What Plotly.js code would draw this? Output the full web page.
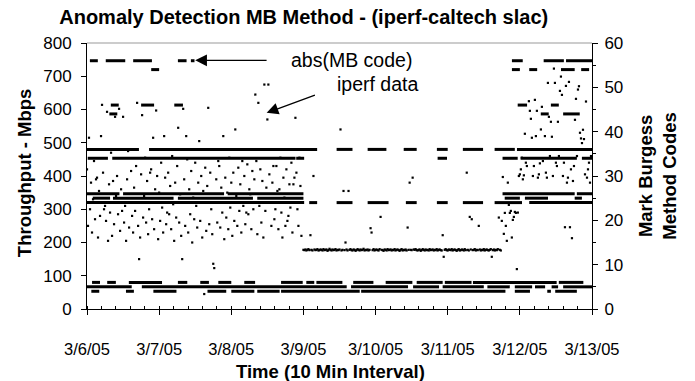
<!DOCTYPE html>
<html>
<head>
<meta charset="utf-8">
<script src="https://cdn.plot.ly/plotly-3.0.1.min.js"></script>
<style>html,body{margin:0;padding:0;background:#fff;}#chart{width:695px;height:381px;}</style>
</head>
<body>
<div id="chart"></div>
<script>
// ---- data ----
var dayLabels = ['3/6/05','3/7/05','3/8/05','3/9/05','3/10/05','3/11/05','3/12/05','3/13/05'];
var dayTicks = [0,1,2,3,4,5,6,7];           // days since 3/6/05
var sampleStep = 1/72;                      // 20-minute samples (days)

// iperf throughput (Mbps), three runs
var iperfStart1 = 0;
var iperf1 = [
 420,250,515,300,380,230,330,445,270,390,395,215,
 355,280,520,614,410,300,310,265,593,205,375,290,
 470,220,385,255,578,340,400,285,602,235,360,295,
 578,260,310,205,390,475,245,320,415,280,230,365,
 295,430,620,250,150,215,405,583,275,340,455,260,
 385,225,300,410,420,270,515,240,360,597,400,210,
 350,265,440,305,230,520,395,255,290,410,285,370,
 240,460,315,205,380,275,430,545,260,345,220,150,
 602,390,250,520,450,230,360,285,415,200,335,270,
 440,310,245,380,505,265,400,215,355,45,425,235,
 370,605,255,410,300,225,136,123,320,390,260,445,
 430,245,365,290,520,210,395,275,350,240,455,305,
 380,220,410,265,540,340,250,425,295,375,230,445,
 310,400,255,290,435,285,360,345,240,415,300,390,
 645,445,225,620,310,420,260,385,215,675,295,365,
 570,675,405,320,250,380,430,270,300,430,355,240,
 360,455,290,215,395,335,250,420,265,280,375,305,
 440,230,375,395,575,410,300,250,455,370,220,480
];
var iperfStart2 = 3;
var iperf2 = [
 178,177,179,176,178,180,177,222,178,176,400,179,177,178,180,176,177,179,
 178,176,180,177,178,179,175,177,181,178,176,179,177,178,180,176,178,177,
 179,540,176,178,355,177,200,179,176,355,178,180,177,176,179,178,175,177,
 180,178,176,179,177,178,181,176,178,177,179,176,178,243,230,177,180,176,
 178,179,177,176,180,277,178,177,175,179,178,176,180,177,178,179,176,178,
 177,180,176,178,179,177,175,178,180,176,178,177,179,176,245,178,380,178,
 177,395,179,178,180,177,176,178,179,175,177,180,178,176,179,177,178,176,
 180,177,178,179,176,178,177,180,176,178,179,177,176,222,157,178,180,177,
 176,179,178,177,180,176,178,179,177,175,178,180,176,177,179,178,176,180,
 177,410,178,176,277,179,270,177,178,180,176,178,177,250,179,176,178,177,
 180,176,178,179,177,176,178,180,157,177,179,176,178,177,180,275,178,176
];
var iperfStart3 = 5.75;
var iperf3 = [
 265,397,226,289,250,205,380,313,289,295,215,268,277,292,289,120,290,
 400,405,420,455,390,402,527,440,430,480,625,596,572,
 515,400,430,629,520,596,395,405,438,540,608,445,480,520,410,
 395,680,578,460,563,518,400,723,680,440,430,563,460,656,699,
 644,400,440,246,671,380,395,683,246,420,213,385,430,569,632,
 460,660,670,530,513,499,539,511,405,624,395,420,440,380,460
];

// abs(MB code): code level and the time spans (days since 3/6/05) it holds
var mbLevels = [56, 54, 46, 44, 36, 34, 26, 25, 24, 6, 5, 4];
var mbSpans = [
 [[0.04,0.15],[0.26,0.53],[0.64,0.90],[1.26,1.38],[1.44,1.49],[5.89,6.04],[6.33,6.61],[6.64,7.0]],
 [[0.89,1.00],[5.89,6.00],[6.13,6.24],[6.57,6.76],[6.85,6.96]],
 [[0.33,0.44],[0.75,0.93],[1.21,1.33],[5.97,6.10],[6.43,6.54]],
 [[0.31,0.42],[6.29,6.40],[6.60,6.83]],
 [[0.0,0.72],[0.86,3.19],[3.46,3.68],[3.89,4.15],[4.39,4.57],[4.85,5.0],[5.21,5.49],[5.65,5.93],[5.96,7.0]],
 [[0.01,0.29],[0.35,2.89],[2.90,3.01],[4.86,4.99],[5.76,5.97],[6.01,6.79],[6.86,7.0]],
 [[0.0,0.45],[0.5,1.9],[1.95,3.0],[5.76,6.76],[6.79,7.0]],
 [[0.08,0.32],[0.36,1.2],[1.26,2.3],[2.36,3.0],[5.79,6.0],[6.07,6.39],[6.76,6.86]],
 [[0.0,3.01],[3.08,3.19],[3.46,3.68],[3.89,4.18],[4.42,4.57],[4.85,5.0],[5.21,5.49],[5.65,6.03],[6.13,7.0]],
 [[0.07,0.18],[0.28,0.40],[0.58,1.04],[1.26,1.39],[1.57,1.69],[1.82,2.0],[2.18,2.33],[2.69,2.99],[3.04,3.15],[3.18,3.54],[3.69,3.97],[4.14,4.51],[4.57,4.93],[4.96,5.33],[5.35,6.51],[6.54,6.88]],
 [[0.0,0.62],[0.76,3.6],[3.66,4.45],[4.52,4.88],[4.93,5.5],[5.55,5.86],[5.93,6.17],[6.21,6.35],[6.44,6.53],[6.6,7.0]],
 [[0.06,0.17],[0.54,0.65],[0.92,1.24],[1.67,1.93],[2.0,2.32],[2.36,2.67],[2.69,3.78],[3.8,5.8],[5.93,6.14],[6.38,6.43],[6.49,6.79]]
];

// ---- build traces ----
var ix = [], iy = [];
function addRun(start, vals){
  for (var i = 0; i < vals.length; i++){ ix.push(start + i*sampleStep); iy.push(vals[i]); }
}
addRun(iperfStart1, iperf1);
addRun(iperfStart2, iperf2);
addRun(iperfStart3, iperf3);

var mx = [], my = [];
for (var k = 0; k < mbLevels.length; k++){
  mbSpans[k].forEach(function(s){ mx.push(s[0], s[1], null); my.push(mbLevels[k], mbLevels[k], null); });
}

var F = 'Liberation Sans, Arial, Helvetica, sans-serif';
var traces = [
  {x: mx, y: my, yaxis: 'y2', mode: 'lines', line: {color: '#000', width: 3}, hoverinfo: 'skip', name: 'abs(MB code)'},
  {x: ix, y: iy, mode: 'markers', marker: {color: '#000', size: 2.2, symbol: 'square'}, hoverinfo: 'skip', name: 'iperf data'}
];

var layout = {
  width: 695, height: 381,
  margin: {l: 87, r: 103, t: 43, b: 72},
  paper_bgcolor: '#fff', plot_bgcolor: '#fff',
  showlegend: false,
  font: {family: F, color: '#000', size: 16},
  title: {text: '<b>Anomaly Detection MB Method - (iperf-caltech slac)</b>', font: {family: F, size: 20, color: '#000'},
          x: 0.437, xanchor: 'center', y: 0.955, yanchor: 'middle'},
  xaxis: {range: [0, 7], tickvals: dayTicks, ticktext: dayLabels, showgrid: false, zeroline: false,
          showline: true, linecolor: '#000', linewidth: 1, ticks: 'outside', ticklen: 5, tickcolor: '#000',
          ticklabelstandoff: 20, tickfont: {size: 16.5},
          minor: {dtick: 0.2, ticks: 'inside', ticklen: 3, tickcolor: '#000', showgrid: false}},
  yaxis: {range: [0, 800], dtick: 100, showgrid: false, zeroline: false, showline: true, linecolor: '#000',
          linewidth: 1, ticks: 'outside', ticklen: 5, tickcolor: '#000', ticklabelstandoff: 6, tickfont: {size: 17}},
  yaxis2: {range: [0, 60], dtick: 10, overlaying: 'y', side: 'right', showgrid: false, zeroline: false,
           showline: true, linecolor: '#000', linewidth: 1, ticks: 'outside', ticklen: 5, tickcolor: '#000',
           ticklabelstandoff: 3, tickfont: {size: 17},
           minor: {dtick: 5, ticks: 'outside', ticklen: 3, tickcolor: '#000', showgrid: false}},
  shapes: [{type: 'line', xref: 'paper', yref: 'paper', x0: 0, x1: 1, y0: 1, y1: 1, line: {color: '#999', width: 1}}],
  annotations: [
    {text: '<b>Throughput - Mbps</b>', xref: 'paper', yref: 'paper', x: -0.125, y: 0.514, xanchor: 'center', yanchor: 'middle',
     textangle: -90, showarrow: false, font: {size: 18.5}},
    {text: '<b>Mark Burgess<br>Method Codes</b>', xref: 'paper', yref: 'paper', x: 1.128, y: 0.50, xanchor: 'center', yanchor: 'middle',
     textangle: -90, showarrow: false, font: {size: 18.5}},
    {text: '<b>Time (10 Min Interval)</b>', xref: 'paper', yref: 'paper', x: 0.482, y: -0.236, xanchor: 'center', yanchor: 'middle',
     showarrow: false, font: {size: 18.5}},
    {text: 'abs(MB code)', xref: 'x', yref: 'y', x: 3.67, y: 750, xanchor: 'center', yanchor: 'middle', showarrow: false, font: {size: 19.5}},
    {text: 'iperf data', xref: 'x', yref: 'y', x: 4.03, y: 677, xanchor: 'center', yanchor: 'middle', showarrow: false, font: {size: 19.5}},
    {text: '', xref: 'x', yref: 'y', x: 1.50, y: 748, axref: 'x', ayref: 'y', ax: 2.51, ay: 748, showarrow: true,
     arrowhead: 2, arrowsize: 1.8, arrowwidth: 1.3, arrowcolor: '#000'},
    {text: '', xref: 'x', yref: 'y', x: 2.49, y: 590, axref: 'x', ayref: 'y', ax: 3.18, ay: 645, showarrow: true,
     arrowhead: 2, arrowsize: 1.8, arrowwidth: 1.3, arrowcolor: '#000'}
  ]
};

Plotly.newPlot('chart', traces, layout, {staticPlot: true, displayModeBar: false});
</script>
</body>
</html>
